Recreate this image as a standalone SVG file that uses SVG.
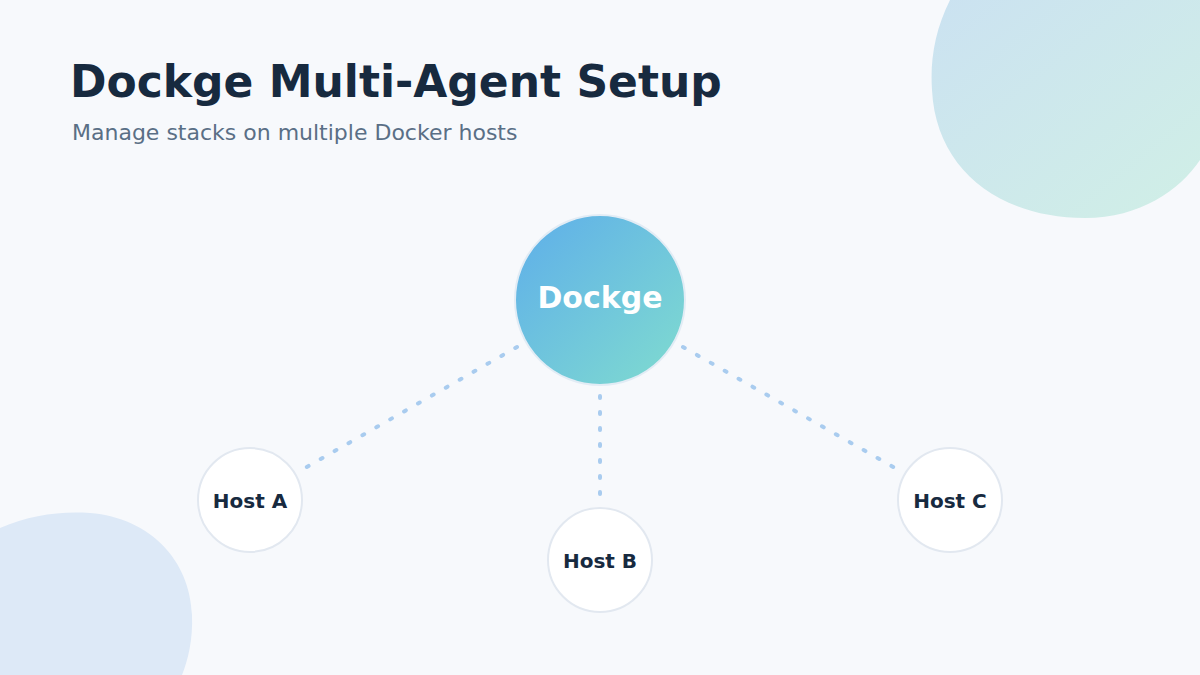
<svg xmlns="http://www.w3.org/2000/svg" width="1200" height="675" viewBox="0 0 1200 675">
<defs>
<linearGradient id="hub" x1="0" y1="0" x2="1" y2="1">
<stop offset="0" stop-color="#5eaeea"/>
<stop offset="1" stop-color="#80dccf"/>
</linearGradient>
<linearGradient id="blob1" x1="0" y1="0" x2="1" y2="1">
<stop offset="0" stop-color="#cbe2f1"/>
<stop offset="1" stop-color="#d0efe6"/>
</linearGradient>
<style>
.title{font-family:"DejaVu Sans",sans-serif;font-weight:bold;font-size:44px;fill:#172a3f}
.sub{font-family:"DejaVu Sans",sans-serif;font-size:22px;fill:#5a6f86}
.host circle{fill:#ffffff;stroke:#e2e8f0;stroke-width:2}
.host text{font-family:"DejaVu Sans",sans-serif;font-weight:bold;font-size:20px;fill:#172a3f;text-anchor:middle}
.conn line{stroke:#a9ccef;stroke-width:4;stroke-linecap:round;stroke-dasharray:2 14}
</style>
</defs>
<rect width="1200" height="675" fill="#f7f9fc"/>
<path d="M950 0 C935 30 930 60 932 90 C936 170 1000 218 1085 218 C1140 218 1180 190 1200 160 L1200 0 Z" fill="url(#blob1)"/>
<path d="M0 528 C30 515 60 511 90 513 C150 518 190 560 192 615 C193 640 188 660 182 675 L0 675 Z" fill="#dde9f7"/>
<text class="title" x="70" y="97">Dockge Multi-Agent Setup</text>
<text class="sub" x="72" y="140">Manage stacks on multiple Docker hosts</text>
<g id="connectors" class="conn">
<line x1="517" y1="347" x2="305" y2="468"/>
<line x1="600" y1="396" x2="600" y2="494"/>
<line x1="683" y1="347" x2="895" y2="468"/>
</g>
<g id="dockge">
<circle cx="600" cy="300" r="85" fill="url(#hub)" stroke="#e2ecf5" stroke-width="2"/>
<text x="600" y="308" font-family="DejaVu Sans, sans-serif" font-weight="bold" font-size="30" fill="#ffffff" text-anchor="middle">Dockge</text>
</g>
<g id="hostA" class="host"><circle cx="250" cy="500" r="52"/><text x="250" y="508">Host A</text></g>
<g id="hostB" class="host"><circle cx="600" cy="560" r="52"/><text x="600" y="568">Host B</text></g>
<g id="hostC" class="host"><circle cx="950" cy="500" r="52"/><text x="950" y="508">Host C</text></g>
</svg>
